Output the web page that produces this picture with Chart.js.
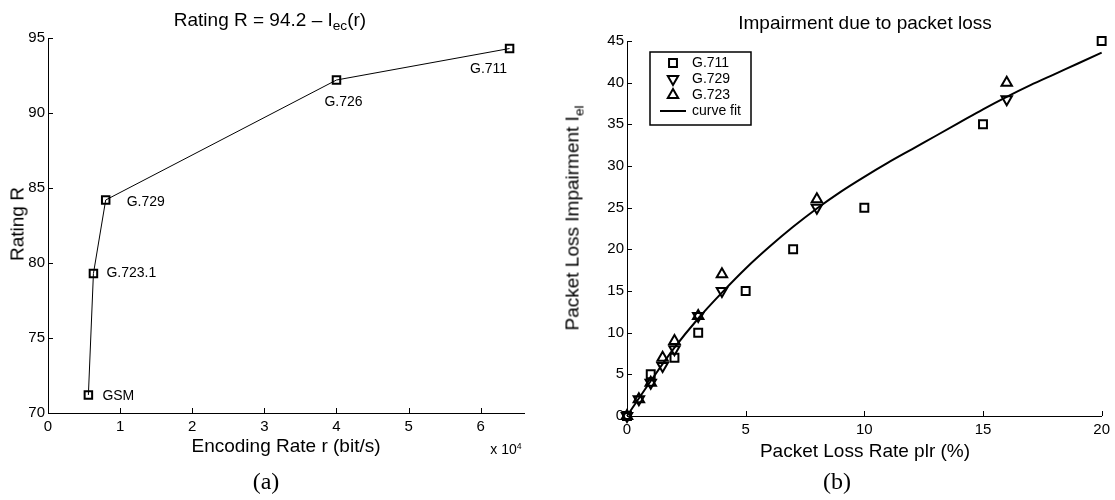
<!DOCTYPE html>
<html>
<head>
<meta charset="utf-8">
<script src="https://cdn.jsdelivr.net/npm/chart.js@4.4.1/dist/chart.umd.min.js"></script>
<style>
  html, body { margin: 0; padding: 0; background: #fff; }
  body { position: relative; width: 1115px; height: 500px; overflow: hidden;
         font-family: "Liberation Sans", Arial, sans-serif; color: #000; }
  .pane { position: absolute; top: 0; }
  .lbl { position: absolute; white-space: nowrap; line-height: 1; transform: translate(-50%, -50%); }
  .lbl sub { font-size: 0.72em; vertical-align: -0.35em; line-height: 0; }
  .lbl sup { font-size: 0.62em; vertical-align: 0.55em; line-height: 0; }
  .big { font-size: 19px; }
  .rot { transform: translate(-50%, -50%) rotate(-90deg); }
  .cap { font-family: "Liberation Serif", "DejaVu Serif", serif; font-size: 24px; }
</style>
</head>
<body>
<div class="pane" style="left:0"><canvas id="chart-rating" width="557" height="500"></canvas></div>
<div class="pane" style="left:557px"><canvas id="chart-loss" width="558" height="500"></canvas></div>

<div class="lbl big" style="left:270px; top:19px">Rating R = 94.2 – I<sub>ec</sub>(r)</div>
<div class="lbl big rot" style="left:17px; top:224px">Rating R</div>
<div class="lbl big" style="left:286px; top:445px">Encoding Rate r (bit/s)</div>
<div class="lbl" style="left:506px; top:449px; font-size:14px">x 10<sup>4</sup></div>
<div class="lbl cap" style="left:266px; top:481px">(a)</div>

<div class="lbl big" style="left:865px; top:22px">Impairment due to packet loss</div>
<div class="lbl big rot" style="left:572px; top:218px">Packet Loss Impairment I<sub>el</sub></div>
<div class="lbl big" style="left:865px; top:450px">Packet Loss Rate plr (%)</div>
<div class="lbl cap" style="left:837px; top:481px">(b)</div>

<script>
// (a) rating R against encoding rate
const codecNames   = ['GSM', 'G.723.1', 'G.729', 'G.726', 'G.711'];
const encodingRate = [5600, 6300, 8000, 40000, 64000];
const ratingR      = [71.2, 79.3, 84.2, 92.2, 94.3];
const rateTicks    = [0, 10000, 20000, 30000, 40000, 50000, 60000];
const ratingTicks  = [70, 75, 80, 85, 90, 95];

// (b) packet loss impairment
const plrG711 = [0, 1, 2, 3, 5, 7, 10, 15, 20];
const ieG711  = [0, 5, 7, 10, 15, 20, 25, 35, 45];
const plrG729 = [0, 0.5, 1, 1.5, 2, 3, 4, 8, 16];
const ieG729  = [0, 2, 4, 6, 8, 12, 15, 25, 38];
const plrG723 = [0, 0.5, 1, 1.5, 2, 3, 4, 8, 16];
const ieG723  = [0, 2, 4, 7, 9, 12, 17, 26, 40];
const plrFit  = [0, 1, 2, 3, 4, 5, 6, 7, 8, 9, 10, 11, 12, 13, 14, 15, 16, 17, 18, 19, 20];
const ieFit   = [0, 4.2, 8.2, 11.7, 14.8, 17.7, 20.3, 22.7, 24.9, 26.9, 28.7,
                 30.4, 32.0, 33.6, 35.2, 36.8, 38.3, 39.7, 41.0, 42.3, 43.6];
const plrTicks = [0, 5, 10, 15, 20];
const ieTicks  = [0, 5, 10, 15, 20, 25, 30, 35, 40, 45];
const lossSeries = ['G.711', 'G.729', 'G.723', 'curve fit'];

// label offsets (px) from each codec point, and text alignment
const codecLabelPos = [
  { dx: 14, dy: 1, align: 'left' },
  { dx: 13, dy: 0, align: 'left' },
  { dx: 21, dy: 2, align: 'left' },
  { dx: 7, dy: 22, align: 'center' },
  { dx: -21, dy: 21, align: 'center' },
];

const FONT = '"Liberation Sans", Arial, sans-serif';
const pts = (xs, ys) => xs.map((x, i) => ({ x, y: ys[i] }));

function fixBox(w, h) {
  return scale => { if (scale.isHorizontal()) scale.height = h; else scale.width = w; };
}

function setTicks(list) {
  return scale => { scale.ticks = list.map(v => ({ value: v })); };
}

// MATLAB style ticks pointing into the plot
const inwardTicks = {
  id: 'inwardTicks',
  afterDraw(chart) {
    const { ctx, scales: { x, y } } = chart;
    ctx.save();
    ctx.strokeStyle = '#000';
    ctx.lineWidth = 1;
    ctx.beginPath();
    x.ticks.forEach(t => {
      const px = Math.round(x.getPixelForValue(t.value)) + 0.5;
      ctx.moveTo(px, y.bottom); ctx.lineTo(px, y.bottom - 5);
    });
    y.ticks.forEach(t => {
      const py = Math.round(y.getPixelForValue(t.value)) + 0.5;
      ctx.moveTo(x.left, py); ctx.lineTo(x.left + 5, py);
    });
    ctx.stroke();
    ctx.restore();
  },
};

const codecLabels = {
  id: 'codecLabels',
  afterDatasetsDraw(chart) {
    const { ctx, scales: { x, y } } = chart;
    ctx.save();
    ctx.font = '14px ' + FONT;
    ctx.fillStyle = '#000';
    ctx.textBaseline = 'middle';
    codecNames.forEach((name, i) => {
      const p = codecLabelPos[i];
      ctx.textAlign = p.align;
      ctx.fillText(name, x.getPixelForValue(encodingRate[i]) + p.dx, y.getPixelForValue(ratingR[i]) + p.dy);
    });
    ctx.restore();
  },
};

const boxLegend = {
  id: 'boxLegend',
  afterDraw(chart) {
    const ctx = chart.ctx;
    const bx = 93, by = 52, bw = 101, bh = 73;
    ctx.save();
    ctx.fillStyle = '#fff';
    ctx.fillRect(bx, by, bw, bh);
    ctx.strokeStyle = '#000';
    ctx.lineWidth = 1.5;
    ctx.strokeRect(bx, by, bw, bh);
    ctx.font = '14px ' + FONT;
    ctx.textBaseline = 'middle';
    ctx.textAlign = 'left';
    chart.data.datasets.forEach((ds, i) => {
      const ry = by + 11 + i * 16;
      ctx.strokeStyle = '#000';
      ctx.fillStyle = '#fff';
      if (ds.showLine) {
        ctx.lineWidth = 2;
        ctx.beginPath(); ctx.moveTo(bx + 10, ry); ctx.lineTo(bx + 36, ry); ctx.stroke();
      } else {
        ctx.lineWidth = ds.pointBorderWidth;
        Chart.helpers.drawPoint(ctx, {
          pointStyle: ds.pointStyle, rotation: ds.pointRotation || 0,
          radius: ds.pointRadius, borderWidth: ds.pointBorderWidth,
        }, bx + 23, ry);
      }
      ctx.fillStyle = '#000';
      ctx.fillText(ds.label, bx + 42, ry);
    });
    ctx.restore();
  },
};

const axisCommon = {
  grid: { display: false, drawTicks: false },
  border: { display: true, color: '#000', width: 1 },
};
const tickFont = { family: FONT, size: 15 };

new Chart(document.getElementById('chart-rating'), {
  type: 'scatter',
  data: {
    datasets: [{
      label: 'R',
      data: pts(encodingRate, ratingR),
      showLine: true,
      borderColor: '#000',
      borderWidth: 1,
      pointStyle: 'rect',
      pointRadius: 5.3,
      pointBorderWidth: 2,
      pointBackgroundColor: 'rgba(0,0,0,0)',
      pointBorderColor: '#000',
      clip: false,
    }],
  },
  options: {
    responsive: false,
    animation: false,
    layout: { padding: { top: 38, right: 33, left: 0, bottom: 0 } },
    plugins: { legend: { display: false }, tooltip: { enabled: false } },
    scales: {
      x: {
        ...axisCommon, type: 'linear', min: 0, max: 66000,
        afterBuildTicks: setTicks(rateTicks), afterFit: fixBox(48, 87),
        ticks: { color: '#000', font: tickFont, padding: 5, maxRotation: 0,
                 callback: v => String(v / 10000) },
      },
      y: {
        ...axisCommon, type: 'linear', min: 70, max: 95,
        afterBuildTicks: setTicks(ratingTicks), afterFit: fixBox(48, 87),
        ticks: { color: '#000', font: tickFont, padding: 3 },
      },
    },
  },
  plugins: [inwardTicks, codecLabels],
});

const markerDs = (label, xs, ys, style, rot, r) => ({
  label,
  data: pts(xs, ys),
  showLine: false,
  pointStyle: style,
  pointRotation: rot,
  pointRadius: r,
  pointBorderWidth: 2,
  pointBackgroundColor: 'rgba(0,0,0,0)',
  pointBorderColor: '#000',
  clip: false,
});

new Chart(document.getElementById('chart-loss'), {
  type: 'scatter',
  data: {
    datasets: [
      markerDs(lossSeries[0], plrG711, ieG711, 'rect', 0, 5.6),
      markerDs(lossSeries[1], plrG729, ieG729, 'triangle', 180, 6),
      markerDs(lossSeries[2], plrG723, ieG723, 'triangle', 0, 6),
      {
        label: lossSeries[3],
        data: pts(plrFit, ieFit),
        showLine: true,
        borderColor: '#000',
        borderWidth: 2,
        pointRadius: 0,
        cubicInterpolationMode: 'monotone',
        clip: false,
      },
    ],
  },
  options: {
    responsive: false,
    animation: false,
    layout: { padding: { top: 41, right: 12, left: 0, bottom: 0 } },
    plugins: { legend: { display: false }, tooltip: { enabled: false } },
    scales: {
      x: {
        ...axisCommon, type: 'linear', min: 0, max: 20,
        afterBuildTicks: setTicks(plrTicks), afterFit: fixBox(70, 84),
        ticks: { color: '#000', font: tickFont, padding: 5, maxRotation: 0 },
      },
      y: {
        ...axisCommon, type: 'linear', min: 0, max: 45,
        afterBuildTicks: setTicks(ieTicks), afterFit: fixBox(70, 84),
        ticks: { color: '#000', font: tickFont, padding: 3 },
      },
    },
  },
  plugins: [inwardTicks, boxLegend],
});
</script>
</body>
</html>
